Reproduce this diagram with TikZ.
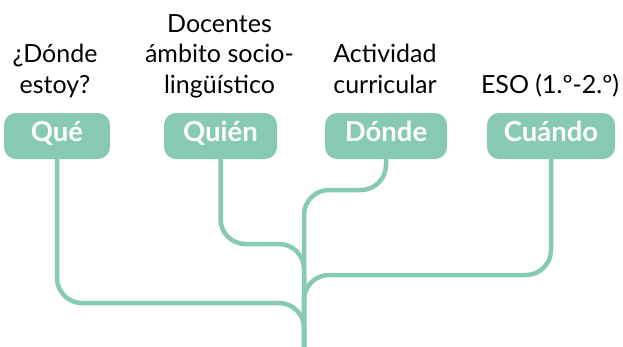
\documentclass[tikz,border=0pt]{standalone}
\usepackage{fontspec}
\setmainfont{Lato}
\definecolor{teal}{HTML}{88C9B4}
\begin{document}
\begin{tikzpicture}[x=1pt,y=-1pt,
  box/.style={fill=teal,rounded corners=12pt,minimum height=46pt,inner sep=0pt,
    text=white,font=\fontsize{27.5}{32}\bfseries\selectfont,text height=19.7pt,text depth=8pt},
  lbl/.style={anchor=base,inner sep=0pt,font=\fontsize{25}{30.5}\selectfont},
  branch/.style={draw=teal,line width=4.5pt,rounded corners=25pt}]
\useasboundingbox (0,0) rectangle (623,346);
\node[box,minimum width=106pt] (que) at (57,136) {Qué};
\node[box,minimum width=113pt] (quien) at (220.5,136) {Quién};
\node[box,minimum width=122pt] (donde) at (386,136) {Dónde};
\node[box,minimum width=128pt] (cuando) at (551,136) {Cuándo};
\node[lbl] (l1) at (55,93) {\begin{tabular}[b]{@{}c@{}}¿Dónde\\estoy?\end{tabular}};
\node[lbl] (l2) at (219.5,93) {\begin{tabular}[b]{@{}c@{}}Docentes\\ámbito socio-\\lingüístico\end{tabular}};
\node[lbl] (l3) at (385,93) {\begin{tabular}[b]{@{}c@{}}Actividad\\curricular\end{tabular}};
\node[lbl] (l4) at (550,93) {ESO (1.º-2.º)};
\coordinate (root) at (304,350);
\draw[branch] (que.south) -- (que.south |- 0,303) -- (root |- 0,303) -- (root);
\draw[branch] (quien.south) -- (quien.south |- 0,244) -- (root |- 0,244) -- (root);
\draw[branch] (donde.south) -- (donde.south |- 0,190) -- (root |- 0,190) -- (root);
\draw[branch] (cuando.south) -- (cuando.south |- 0,275) -- (root |- 0,275) -- (root);
\end{tikzpicture}
\end{document}
